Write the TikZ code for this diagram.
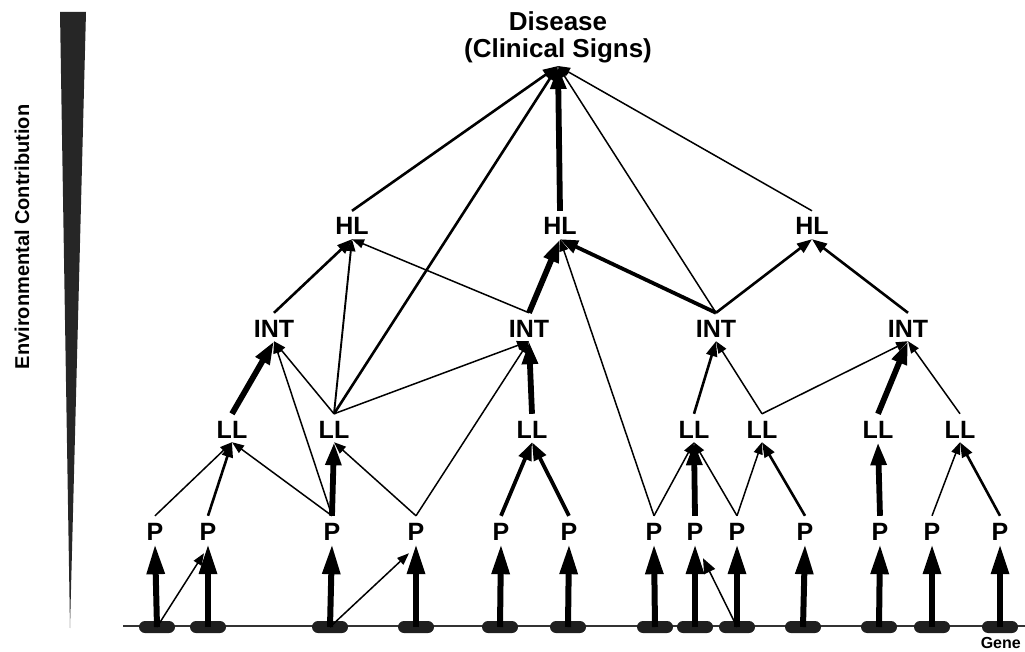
\documentclass[tikz,border=0pt]{standalone}
\usepackage{fontspec}
\setmainfont{Liberation Sans}
\usetikzlibrary{arrows.meta}
\begin{document}
\begin{tikzpicture}[x=1pt,y=-1pt,
  lbl/.style={font=\fontsize{25}{28}\selectfont\bfseries, anchor=base, inner xsep=0pt, inner ysep=4pt, text height=20pt, text depth=0pt},
  genebox/.style={draw=none, fill=black!88, rounded corners=6pt, minimum width=36pt, minimum height=12pt, inner sep=0pt},
  thinA/.style={line width=1.5pt, -{Triangle[length=12pt,width=9pt]}},
  medA/.style={line width=2.6pt, -{Triangle[length=15pt,width=11pt]}},
  thkA/.style={line width=3.8pt, -{Triangle[length=18pt,width=13pt]}},
  vthkA/.style={line width=5.8pt, -{Triangle[length=23pt,width=15pt]}},
  geneA/.style={line width=6pt, -{Triangle[length=30pt,width=17pt]}}
]
\useasboundingbox (0,0) rectangle (1025,652);

% wedge and side label
\fill[black!85] (60,12) -- (86,12) -- (70,628) -- cycle;
\node[rotate=90, font=\fontsize{20}{24}\selectfont\bfseries] (env) at (22,237) {Environmental Contribution};

% gene line
\draw[line width=1.2pt, black!80] (123,626) -- (1025,626);
\node[font=\fontsize{16}{18}\selectfont\bfseries, anchor=base east, inner sep=0pt] (genelbl) at (1021,648) {Gene};

% top node
\node[font=\fontsize{26}{27}\selectfont\bfseries, align=center, anchor=south, inner ysep=3pt] (dis) at (558,66) {Disease\\(Clinical Signs)};

% HL
\node[lbl] (HL1) at (352,235) {HL};
\node[lbl] (HL2) at (560,235) {HL};
\node[lbl] (HL3) at (812,235) {HL};
% INT
\node[lbl] (INT1) at (274,337) {INT};
\node[lbl] (INT2) at (529,337) {INT};
\node[lbl] (INT3) at (716,337) {INT};
\node[lbl] (INT4) at (908,337) {INT};
% LL
\node[lbl] (LL1) at (232,438) {LL};
\node[lbl] (LL2) at (334,438) {LL};
\node[lbl] (LL3) at (532,438) {LL};
\node[lbl] (LL4) at (694,438) {LL};
\node[lbl] (LL5) at (762,438) {LL};
\node[lbl] (LL6) at (878,438) {LL};
\node[lbl] (LL7) at (960,438) {LL};
% P
\node[lbl] (P1) at (155,540) {P};
\node[lbl] (P2) at (208,540) {P};
\node[lbl] (P3) at (332,540) {P};
\node[lbl] (P4) at (416,540) {P};
\node[lbl] (P5) at (501,540) {P};
\node[lbl] (P6) at (569,540) {P};
\node[lbl] (P7) at (654,540) {P};
\node[lbl] (P8) at (695,540) {P};
\node[lbl] (P9) at (737,540) {P};
\node[lbl] (P10) at (805,540) {P};
\node[lbl] (P11) at (880,540) {P};
\node[lbl] (P12) at (932,540) {P};
\node[lbl] (P13) at (1000,540) {P};
% genes
\node[genebox] (g1) at (157,627) {};
\node[genebox] (g2) at (208,627) {};
\node[genebox] (g3) at (330,627) {};
\node[genebox] (g4) at (416,627) {};
\node[genebox] (g5) at (500,627) {};
\node[genebox] (g6) at (568,627) {};
\node[genebox] (g7) at (655,627) {};
\node[genebox] (g8) at (695,627) {};
\node[genebox] (g9) at (737,627) {};
\node[genebox] (g10) at (803,627) {};
\node[genebox] (g11) at (879,627) {};
\node[genebox] (g12) at (932,627) {};
\node[genebox] (g13) at (1000,627) {};

% gene -> P
\foreach \i in {1,...,13} {\draw[geneA] (g\i.center) -- (P\i.south);}
\draw[thinA] (g1.center) -- ([xshift=-4pt,yshift=-9pt]P2.south);
\draw[thinA] (g3.center) -- ([xshift=-7pt,yshift=-9pt]P4.south);
\draw[thinA, -{Triangle[length=15pt,width=12pt]}] (g9.center) -- ([xshift=8pt,yshift=-14pt]P8.south);

% P -> LL
\draw[thinA] (P1.north) -- (LL1.south);
\draw[medA] (P2.north) -- (LL1.south);
\draw[thinA] (P3.north) -- (LL1.south);
\draw[vthkA] (P3.north) -- (LL2.south);
\draw[thinA] (P4.north) -- (LL2.south);
\draw[thkA] (P5.north) -- (LL3.south);
\draw[thkA] (P6.north) -- (LL3.south);
\draw[thinA] (P7.north) -- (LL4.south);
\draw[vthkA] (P8.north) -- (LL4.south);
\draw[thinA] (P9.north) -- (LL4.south);
\draw[thinA] (P9.north) -- (LL5.south);
\draw[medA] (P10.north) -- (LL5.south);
\draw[vthkA] (P11.north) -- (LL6.south);
\draw[thinA] (P12.north) -- (LL7.south);
\draw[medA] (P13.north) -- (LL7.south);

% -> INT
\draw[vthkA] (LL1.north) -- (INT1.south);
\draw[thinA] (P3.north) -- (INT1.south);
\draw[thinA] (LL2.north) -- (INT1.south);
\draw[thinA] (LL2.north) -- (INT2.south);
\draw[thinA] (P4.north) -- (INT2.south);
\draw[vthkA] (LL3.north) -- (INT2.south);
\draw[medA] (LL4.north) -- (INT3.south);
\draw[thinA] (LL5.north) -- (INT3.south);
\draw[thinA] (LL5.north) -- (INT4.south);
\draw[vthkA] (LL6.north) -- (INT4.south);
\draw[thinA] (LL7.north) -- (INT4.south);

% -> HL
\draw[medA] (INT1.north) -- (HL1.south);
\draw[thinA, line width=1.9pt] (LL2.north) -- (HL1.south);
\draw[thinA] (INT2.north) -- (HL1.south);
\draw[vthkA] (INT2.north) -- (HL2.south);
\draw[thinA] (P7.north) -- (HL2.south);
\draw[thkA] (INT3.north) -- (HL2.south);
\draw[medA] (INT3.north) -- (HL3.south);
\draw[medA] (INT4.north) -- (HL3.south);

% -> Disease
\draw[medA] (HL1.north) -- (dis.south);
\draw[medA] (LL2.north) -- (dis.south);
\draw[vthkA] (HL2.north) -- (dis.south);
\draw[thinA] (INT3.north) -- (dis.south);
\draw[thinA] (HL3.north) -- (dis.south);
\end{tikzpicture}
\end{document}
